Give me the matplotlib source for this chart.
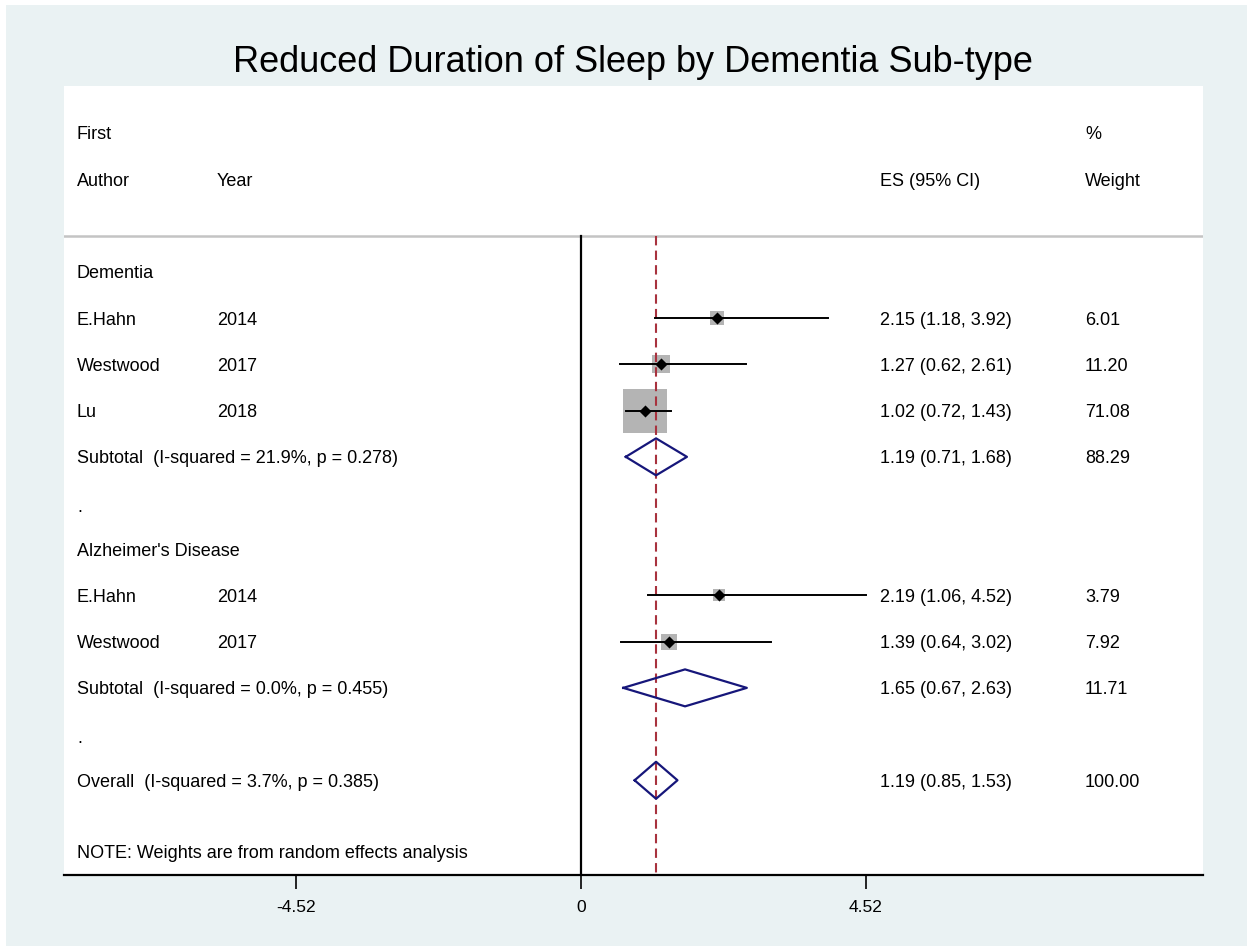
import matplotlib
matplotlib.use("Agg")
import matplotlib.pyplot as plt
import matplotlib.transforms as mtransforms
import numpy as np

plt.rcParams['font.family'] = ['Liberation Sans', 'DejaVu Sans']

# study rows: (row label, year, ES, lower, upper, weight)
authors = ["E.Hahn", "Westwood", "Lu", "E.Hahn", "Westwood"]
years = ["2014", "2017", "2018", "2014", "2017"]
es = [2.15, 1.27, 1.02, 2.19, 1.39]
lo = [1.18, 0.62, 0.72, 1.06, 0.64]
hi = [3.92, 2.61, 1.43, 4.52, 3.02]
wt = [6.01, 11.20, 71.08, 3.79, 7.92]
study_rows = [1, 2, 3, 7, 8]

# pooled rows
pool_labels = ["Subtotal  (I-squared = 21.9%, p = 0.278)",
               "Subtotal  (I-squared = 0.0%, p = 0.455)",
               "Overall  (I-squared = 3.7%, p = 0.385)"]
pool_es = [1.19, 1.65, 1.19]
pool_lo = [0.71, 0.67, 0.85]
pool_hi = [1.68, 2.63, 1.53]
pool_wt = [88.29, 11.71, 100.00]
pool_rows = [4, 9, 11]

group_labels = ["Dementia", "Alzheimer's Disease"]
group_rows = [0, 6]
dot_rows = [5, 10]

overall_es = 1.19
xtick_vals = [-4.52, 0, 4.52]

W, H = 1253, 953
fig = plt.figure(figsize=(W / 100, H / 100), dpi=100)
fig.patch.set_facecolor("white")
# light bluish gray panel with thin white border
fig.patches.append(plt.Rectangle((6 / W, 6 / H), (W - 12) / W, (H - 12) / H,
                                 transform=fig.transFigure, facecolor="#eaf2f3",
                                 edgecolor="none", zorder=-10))

ax = fig.add_axes([64 / W, 1 - 876 / H, (1203 - 64) / W, (876 - 87) / H])
ax.set_facecolor("white")
ax.set_xlim(-8.2, 9.865)
ax.set_ylim(13.05, -4.026)
for s in ["top", "left", "right"]:
    ax.spines[s].set_visible(False)
ax.spines["bottom"].set_linewidth(1.6)
ax.set_yticks([])
ax.set_xticks(xtick_vals)
ax.set_xticklabels(["%g" % v for v in xtick_vals], fontsize=12.5)
ax.tick_params(axis="x", length=10, width=1.2, pad=7)

fsz = 13
sep_y = -0.78
c1, c2, c3, c4 = 0.0114, 0.1343, 0.7164, 0.8964
trans = mtransforms.blended_transform_factory(ax.transAxes, ax.transData)

# header
ax.text(c1, -3.0, "First", transform=trans, fontsize=fsz, va="center")
ax.text(c1, -1.99, "Author", transform=trans, fontsize=fsz, va="center")
ax.text(c2, -1.99, "Year", transform=trans, fontsize=fsz, va="center")
ax.text(c3, -1.99, "ES (95% CI)", transform=trans, fontsize=fsz, va="center")
ax.text(c4, -3.0, "%", transform=trans, fontsize=fsz, va="center")
ax.text(c4, -1.99, "Weight", transform=trans, fontsize=fsz, va="center")
ax.axhline(sep_y, color="#c4c4c4", lw=1.8)

# reference lines
ax.plot([0, 0], [sep_y, 13.05], color="black", lw=1.6, zorder=2)
ax.plot([overall_es, overall_es], [sep_y, 13.05], color="#a8323e", lw=1.5,
        ls=(0, (4.5, 2.5)), zorder=4)

# group headers and spacer dots
for lab, r in zip(group_labels, group_rows):
    ax.text(c1, r + 0.02, lab, transform=trans, fontsize=fsz, va="center")
for r in dot_rows:
    ax.text(c1, r + 0.07, ".", transform=trans, fontsize=fsz, va="center")

# studies
for i in range(len(es)):
    r = study_rows[i]
    side = (2 + 5.05 * np.sqrt(wt[i])) * 0.72
    ax.scatter(es[i], r, marker="s", s=side ** 2, color="#b4b4b4", lw=0, zorder=3)
    ax.plot([lo[i], hi[i]], [r, r], color="black", lw=1.4, zorder=5)
    ax.scatter(es[i], r, marker="D", s=38, color="black", lw=0, zorder=6)
    ax.text(c1, r + 0.02, authors[i], transform=trans, fontsize=fsz, va="center")
    ax.text(c2, r + 0.02, years[i], transform=trans, fontsize=fsz, va="center")
    ax.text(c3, r + 0.02, "%.2f (%.2f, %.2f)" % (es[i], lo[i], hi[i]),
            transform=trans, fontsize=fsz, va="center")
    ax.text(c4, r + 0.02, "%.2f" % wt[i], transform=trans, fontsize=fsz, va="center")

# pooled diamonds
for i in range(len(pool_es)):
    r = pool_rows[i]
    dx = [pool_lo[i], pool_es[i], pool_hi[i], pool_es[i], pool_lo[i]]
    dy = [r, r - 0.40, r, r + 0.40, r]
    ax.plot(dx, dy, color="#16167a", lw=1.6, zorder=5)
    ax.text(c1, r + 0.02, pool_labels[i], transform=trans, fontsize=fsz, va="center")
    ax.text(c3, r + 0.02, "%.2f (%.2f, %.2f)" % (pool_es[i], pool_lo[i], pool_hi[i]),
            transform=trans, fontsize=fsz, va="center")
    ax.text(c4, r + 0.02, "%.2f" % pool_wt[i], transform=trans, fontsize=fsz, va="center")

ax.text(c1, 12.57, "NOTE: Weights are from random effects analysis",
        transform=trans, fontsize=fsz, va="center")

fig.text(633 / W, 1 - 62 / H, "Reduced Duration of Sleep by Dementia Sub-type",
         fontsize=26, ha="center", va="center")

fig.savefig("out.png", dpi=100)
